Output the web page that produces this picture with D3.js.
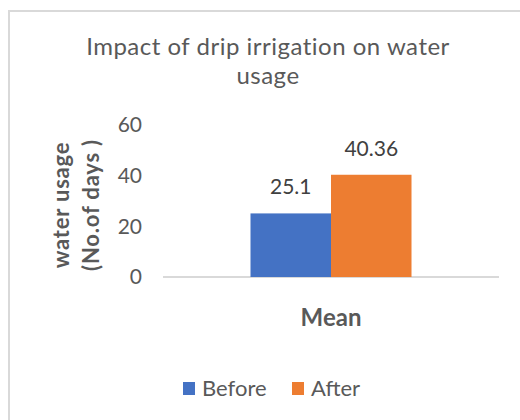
<!DOCTYPE html>
<html>
<head>
<meta charset="utf-8">
<script src="https://cdn.jsdelivr.net/npm/d3@7"></script>
<style>
  body { margin: 0; background: #fff; }
  svg { display: block; font-family: Lato, "Open Sans", sans-serif; }
</style>
</head>
<body>
<svg id="chart" width="520" height="420"></svg>
<script>
const categories = ["Mean"];
const seriesNames = ["Before", "After"];
const before = [25.1];
const after = [40.36];
const yTicks = [0, 20, 40, 60];
const colors = ["#4472C4", "#ED7D31"];

const svg = d3.select("#chart");
const margin = { left: 163, right: 21, top: 125, bottom: 143 };
const width = 520, height = 420;

// chart frame
svg.append("rect")
  .attr("x", 9).attr("y", 11)
  .attr("width", 530).attr("height", 430)
  .attr("fill", "none")
  .attr("stroke", "#d9d9d9")
  .attr("stroke-width", 2);

// title (two lines, as in the original)
const titleLines = ["Impact of drip irrigation on water", "usage"];
svg.selectAll("text.title")
  .data(titleLines)
  .join("text")
  .attr("class", "title")
  .attr("x", 268)
  .attr("y", (d, i) => 55 + i * 29)
  .attr("text-anchor", "middle")
  .attr("fill", "#595959")
  .attr("font-size", 24)
  .attr("letter-spacing", 0.5)
  .text(d => d);

const x = d3.scaleBand()
  .domain(categories)
  .range([margin.left, width - margin.right])
  .paddingInner(0)
  .paddingOuter(0.5435);

const xSub = d3.scaleBand()
  .domain(seriesNames)
  .range([0, x.bandwidth()]);

const y = d3.scaleLinear()
  .domain([0, 60])
  .range([height - margin.bottom, margin.top]);

// y tick labels
const yAxis = svg.append("g")
  .attr("transform", `translate(${margin.left},0)`)
  .call(d3.axisLeft(y).tickValues(yTicks).tickSize(0).tickPadding(21));
yAxis.select(".domain").remove();
yAxis.selectAll("text")
  .attr("font-family", "Lato, sans-serif")
  .attr("font-size", 21)
  .attr("fill", "#595959");

// baseline
svg.append("line")
  .attr("x1", margin.left).attr("x2", width - margin.right)
  .attr("y1", y(0)).attr("y2", y(0))
  .attr("stroke", "#d9d9d9")
  .attr("stroke-width", 2);

const rows = categories.map((c, i) => ({ cat: c, values: [before[i], after[i]] }));

const groups = svg.selectAll("g.cat")
  .data(rows)
  .join("g")
  .attr("class", "cat")
  .attr("transform", d => `translate(${x(d.cat)},0)`);

groups.selectAll("rect")
  .data(d => d.values.map((v, j) => ({ name: seriesNames[j], v, j })))
  .join("rect")
  .attr("x", d => xSub(d.name))
  .attr("y", d => y(d.v))
  .attr("width", xSub.bandwidth())
  .attr("height", d => y(0) - y(d.v))
  .attr("fill", d => colors[d.j]);

groups.selectAll("text.lbl")
  .data(d => d.values.map((v, j) => ({ name: seriesNames[j], v, j })))
  .join("text")
  .attr("class", "lbl")
  .attr("x", d => xSub(d.name) + xSub.bandwidth() / 2)
  .attr("y", d => y(d.v) - 19)
  .attr("text-anchor", "middle")
  .attr("font-size", 21)
  .attr("fill", "#404040")
  .text(d => d.v);

// x category label
svg.selectAll("text.xcat")
  .data(categories)
  .join("text")
  .attr("class", "xcat")
  .attr("x", d => x(d) + x.bandwidth() / 2)
  .attr("y", 326)
  .attr("text-anchor", "middle")
  .attr("font-size", 24)
  .attr("font-weight", "bold")
  .attr("fill", "#595959")
  .text(d => d);

// y axis title
const yTitle = svg.append("text")
  .attr("transform", "translate(0,205) rotate(-90)")
  .attr("text-anchor", "middle")
  .attr("font-size", 22)
  .attr("font-weight", "bold")
  .attr("letter-spacing", 0.8)
  .attr("fill", "#595959");
yTitle.append("tspan").attr("x", 0).attr("y", 69).text("water usage");
yTitle.append("tspan").attr("x", 0).attr("y", 99).text("(No.of days )");

// legend
const legend = svg.append("g").attr("transform", "translate(183,382)");
const items = legend.selectAll("g")
  .data(seriesNames)
  .join("g")
  .attr("transform", (d, i) => `translate(${i * 109},0)`);
items.append("rect")
  .attr("width", 12).attr("height", 13)
  .attr("fill", (d, i) => colors[i]);
items.append("text")
  .attr("x", 19).attr("y", 14)
  .attr("font-size", 22)
  .attr("fill", "#595959")
  .text(d => d);
</script>
</body>
</html>
